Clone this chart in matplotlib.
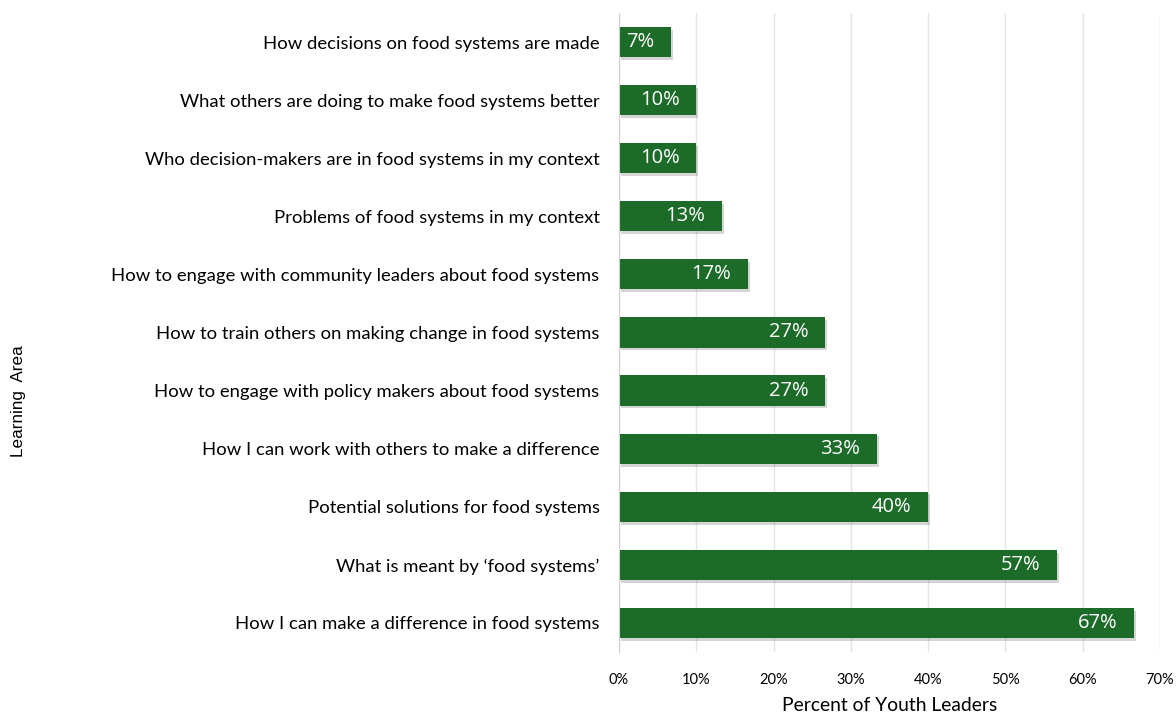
import matplotlib.pyplot as plt
import matplotlib.patheffects as pe
from matplotlib.ticker import MultipleLocator, FuncFormatter

# top to bottom, as in the chart (n = 30 youth leaders)
areas = [
    "How decisions on food systems are made",
    "What others are doing to make food systems better",
    "Who decision-makers are in food systems in my context",
    "Problems of food systems in my context",
    "How to engage with community leaders about food systems",
    "How to train others on making change in food systems",
    "How to engage with policy makers about food systems",
    "How I can work with others to make a difference",
    "Potential solutions for food systems",
    "What is meant by \u2018food systems\u2019",
    "How I can make a difference in food systems",
]
pct = [6.67, 10.0, 10.0, 13.33, 16.67, 26.67, 26.67, 33.33, 40.0, 56.67, 66.67]
pct_labels = ["7%", "10%", "10%", "13%", "17%", "27%", "27%", "33%", "40%", "57%", "67%"]

GREEN = "#1d6b28"

fig = plt.figure(figsize=(11.76, 7.13), dpi=100)
ax = fig.add_axes([0.5264, 0.0856, 0.46, 0.8962])

ypos = list(range(len(areas)))
shadow = [pe.SimplePatchShadow(offset=(1.5, -2), alpha=0.22, shadow_rgbFace="#444444"), pe.Normal()]
bars = ax.barh(ypos, pct, height=0.52, color=GREEN, zorder=3)
for b in bars:
    b.set_path_effects(shadow)

for y, v, lab in zip(ypos, pct, pct_labels):
    ax.annotate(lab, (v, y), xytext=(-12, 0), textcoords="offset points",
                ha="right", va="center", color="white", fontsize=14.5,
                family="Open Sans", zorder=4)

ax.set_xlim(0, 70)
ax.set_ylim(len(areas) - 0.5, -0.5)
ax.set_yticks(ypos)
ax.set_yticklabels(areas, fontsize=13.3, family="Lato")
ax.xaxis.set_major_locator(MultipleLocator(10))
ax.xaxis.set_major_formatter(FuncFormatter(lambda x, _: f"{x:.0f}%"))
for t in ax.get_xticklabels():
    t.set_family("Lato")
    t.set_fontsize(10.5)
ax.tick_params(axis="y", length=0, pad=14)
ax.tick_params(axis="x", length=0, pad=15)
ax.grid(axis="x", color="#e4e4e4", linewidth=1, zorder=0)
for s in ["top", "right", "bottom"]:
    ax.spines[s].set_visible(False)
ax.spines["left"].set_color("#d0d0d0")
ax.spines["left"].set_zorder(5)

ax.set_xlabel("Percent of Youth Leaders", fontsize=13.9, family="Lato", labelpad=7)
fig.text(0.016, 0.438, "Learning  Area", rotation=90, ha="center", va="center",
         fontsize=12.3, family="Liberation Sans")

fig.savefig("out.png", dpi=100)
